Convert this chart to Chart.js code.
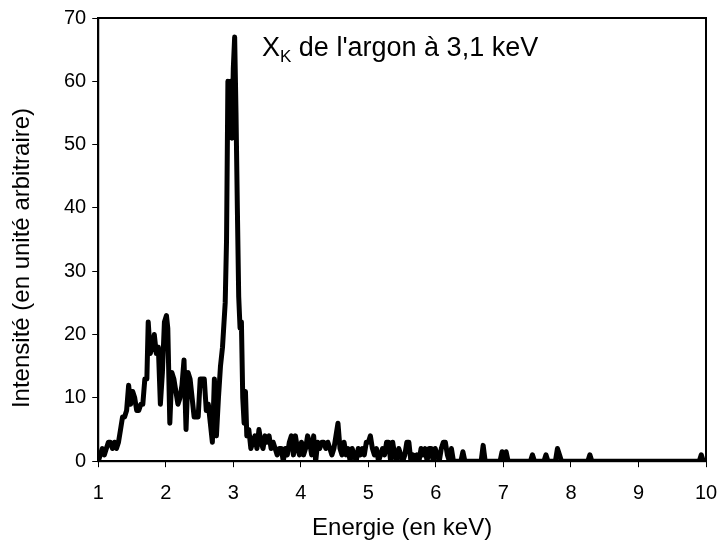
<!DOCTYPE html>
<html>
<head>
<meta charset="utf-8">
<script src="https://cdn.jsdelivr.net/npm/chart.js@4.4.0/dist/chart.umd.min.js"></script>
<style>
  html, body { margin: 0; padding: 0; background: #fff; }
</style>
</head>
<body>
<canvas id="spectre" width="719" height="551"></canvas>
<script>
const energies = [
  1.00, 1.03, 1.06, 1.09, 1.12, 1.15, 1.18, 1.21, 1.24, 1.27, 1.30, 1.33, 1.36, 1.39, 1.42, 1.45, 1.48, 1.51, 1.54, 1.57,
  1.60, 1.63, 1.66, 1.69, 1.72, 1.74, 1.77, 1.80, 1.83, 1.86, 1.89, 1.92, 1.95, 1.98, 2.01, 2.03, 2.06, 2.09, 2.12, 2.15,
  2.18, 2.21, 2.24, 2.27, 2.30, 2.33, 2.36, 2.39, 2.42, 2.45, 2.48, 2.51, 2.54, 2.57, 2.60, 2.63, 2.66, 2.69, 2.72, 2.75,
  2.78, 2.81, 2.84, 2.88, 2.90, 2.92, 2.94, 2.96, 2.98, 3.00, 3.02, 3.04, 3.06, 3.08, 3.10, 3.12, 3.14, 3.16, 3.18, 3.20,
  3.23, 3.26, 3.29, 3.32, 3.35, 3.38, 3.41, 3.44, 3.47, 3.50, 3.53, 3.56, 3.59, 3.62, 3.65, 3.68, 3.71, 3.74, 3.77, 3.80,
  3.83, 3.86, 3.89, 3.92, 3.95, 3.98, 4.01, 4.04, 4.07, 4.10, 4.13, 4.16, 4.19, 4.22, 4.25, 4.28, 4.31, 4.34, 4.37, 4.40,
  4.43, 4.46, 4.49, 4.52, 4.55, 4.58, 4.61, 4.64, 4.67, 4.70, 4.73, 4.76, 4.79, 4.82, 4.85, 4.88, 4.91, 4.94, 4.97, 5.00,
  5.03, 5.06, 5.09, 5.12, 5.15, 5.18, 5.21, 5.24, 5.27, 5.30, 5.33, 5.36, 5.39, 5.42, 5.45, 5.48, 5.51, 5.54, 5.57, 5.60,
  5.63, 5.66, 5.69, 5.72, 5.75, 5.78, 5.81, 5.84, 5.87, 5.90, 5.93, 5.96, 5.99, 6.02, 6.05, 6.08, 6.11, 6.14, 6.17, 6.20,
  6.23, 6.26, 6.37, 6.40, 6.43, 6.67, 6.70, 6.73, 6.95, 6.98, 7.01, 7.04, 7.07, 7.40, 7.43, 7.46, 7.60, 7.63, 7.66, 7.77,
  7.80, 7.83, 7.86, 8.25, 8.28, 8.31, 9.90, 9.93, 9.96, 10.00
];
const intensites = [
  0, 1, 2, 1, 2, 3, 3, 2, 3, 2, 3, 5, 7, 7, 8, 12, 9, 11, 10, 8,
  8, 9, 9, 13, 13, 22, 17, 18, 20, 17, 18, 9, 14, 22, 23, 21, 6, 14, 13, 11,
  9, 10, 12, 16, 5, 14, 13, 10, 7, 7, 7, 13, 13, 13, 8, 9, 6, 3, 13, 4,
  10, 15, 18, 25, 35, 60, 52, 60, 51, 62, 67, 55, 40, 26, 21, 22, 10, 6, 11, 4,
  5, 2, 3, 4, 2, 5, 3, 2, 4, 3, 4, 2, 3, 2, 1, 2, 2, 0, 2, 1,
  3, 4, 1, 4, 2, 1, 3, 1, 2, 4, 3, 1, 4, 0, 3, 2, 3, 3, 2, 3,
  2, 1, 2, 4, 6, 2, 1, 3, 1, 2, 0, 2, 1, 0, 2, 1, 2, 1, 3, 3,
  4, 2, 1, 2, 0, 1, 2, 1, 3, 3, 0, 3, 1, 0, 2, 1, 0, 1, 3, 3,
  0, 1, 0, 1, 0, 2, 1, 2, 0, 2, 2, 0, 2, 1, 0, 2, 3, 3, 1, 0,
  2, 0, 0, 1.5, 0, 0, 2.5, 0, 0, 1.5, 0.5, 1.5, 0, 0, 1, 0, 0, 1, 0, 0,
  2, 1, 0, 0, 1, 0, 0, 1, 0, 0
];
const xTicks = [1, 2, 3, 4, 5, 6, 7, 8, 9, 10];
const yTicks = [0, 10, 20, 30, 40, 50, 60, 70];

const points = energies.map((e, i) => ({ x: e, y: intensites[i] }));

const police = '"Liberation Sans", Arial, sans-serif';

// cadre noir, titre vertical et annotation du pic
const cadrePlugin = {
    id: 'cadre',
    afterDraw(chart) {
        const ctx = chart.ctx;
        const a = chart.chartArea;
        ctx.save();
        ctx.strokeStyle = '#000';
        ctx.lineWidth = 2;
        ctx.strokeRect(a.left, a.top, a.right - a.left, a.bottom - a.top);

        // titre de l'axe vertical (un peu plus bas que le centre, comme l'original)
        ctx.save();
        ctx.translate(22, 258);
        ctx.rotate(-Math.PI / 2);
        ctx.textAlign = 'center';
        ctx.textBaseline = 'middle';
        ctx.fillStyle = '#000';
        ctx.font = '24px ' + police;
        ctx.fillText('Intensité (en unité arbitraire)', 0, 0);
        ctx.restore();

        // X_K de l'argon à 3,1 keV
        ctx.fillStyle = '#000';
        ctx.textBaseline = 'alphabetic';
        ctx.font = '27px ' + police;
        const x0 = 262, y0 = 56;
        ctx.fillText('X', x0, y0);
        const wX = ctx.measureText('X').width;
        ctx.font = '17px ' + police;
        ctx.fillText('K', x0 + wX, y0 + 6);
        const wK = ctx.measureText('K').width;
        ctx.font = '27px ' + police;
        ctx.fillText(" de l'argon à 3,1 keV", x0 + wX + wK, y0);
        ctx.restore();
    }
};

const ctx = document.getElementById('spectre').getContext('2d');
const chart = new Chart(ctx, {
    type: 'line',
    data: {
        datasets: [{
            data: points,
            borderColor: '#000',
            borderWidth: 5,
            borderJoinStyle: 'round',
            borderCapStyle: 'round',
            pointRadius: 0,
            tension: 0,
            fill: false
        }]
    },
    options: {
        responsive: false,
        animation: false,
        layout: {
            padding: { left: 58, right: 13, top: 14, bottom: 4 }
        },
        plugins: {
            legend: { display: false },
            tooltip: { enabled: false }
        },
        scales: {
            x: {
                type: 'linear',
                min: 1,
                max: 10,
                afterBuildTicks: (axis) => { axis.ticks = xTicks.map(v => ({ value: v })); },
                afterFit: (axis) => {
                    axis.paddingRight = 0;
                    axis.paddingLeft = 0;
                    axis.height -= 5;
                },
                grid: { drawOnChartArea: false, drawTicks: true, tickLength: 6, color: '#000', lineWidth: 1 },
                border: { display: true, color: '#000', width: 2 },
                ticks: {
                    color: '#000',
                    padding: 14,
                    maxRotation: 0,
                    font: { family: police, size: 20 }
                },
                title: {
                    display: true,
                    text: 'Energie (en keV)',
                    color: '#000',
                    padding: { top: 0, bottom: 4 },
                    font: { family: police, size: 24 }
                }
            },
            y: {
                min: 0,
                max: 70,
                afterBuildTicks: (axis) => { axis.ticks = yTicks.map(v => ({ value: v })); },
                grid: { drawOnChartArea: false, drawTicks: true, tickLength: 6, color: '#000', lineWidth: 1 },
                border: { display: true, color: '#000', width: 2 },
                ticks: {
                    color: '#000',
                    padding: 6,
                    font: { family: police, size: 20 }
                }
            }
        }
    },
    plugins: [cadrePlugin]
});
</script>
</body>
</html>
